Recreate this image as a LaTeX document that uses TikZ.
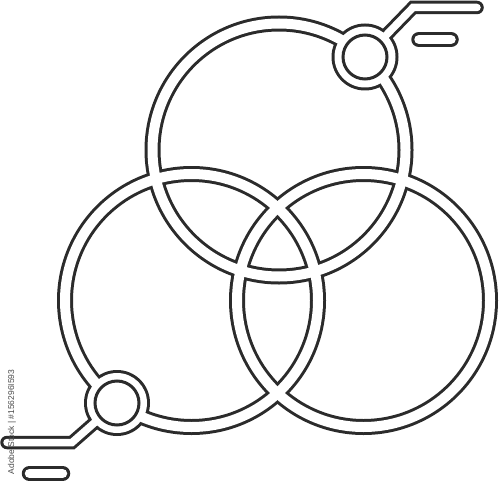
\documentclass[tikz,border=0pt]{standalone}
\usepackage{fontspec}
\newfontfamily\wmfont{Liberation Sans}
\definecolor{ink}{HTML}{2B2B2B}
\tikzset{
  ringout/.style={draw=ink, line width=16pt},
  ringin/.style={draw=white, line width=10pt},
  connout/.style={draw=ink, line width=13.5pt, line cap=round},
  connin/.style={draw=white, line width=7.5pt, line cap=round},
  pillout/.style={draw=ink, line width=15.5pt, line cap=round},
  pillin/.style={draw=white, line width=9.5pt, line cap=round},
  hubline/.style={draw=ink, line width=3pt},
}
\begin{document}
\begin{tikzpicture}[x=1pt,y=-1pt]
\useasboundingbox (0,0) rectangle (500,484);
% centres
\coordinate (T) at (279,150);
\coordinate (L) at (191.5,300.5);
\coordinate (R) at (363.5,300.5);
\coordinate (s1) at (365,57);
\coordinate (s2) at (117,403);
\coordinate (c1) at (413,7.5);
\coordinate (e1) at (477,7.5);
\coordinate (c2) at (72,442.5);
\coordinate (e2) at (7,442.5);
\coordinate (p1a) at (419,39.5);
\coordinate (p1b) at (451,39.5);
\coordinate (p2a) at (29.5,473.5);
\coordinate (p2b) at (62.5,473.5);
% dark layer
\foreach \c in {T,L,R} \draw[ringout] (\c) circle[radius=126.5pt];
\fill[ink] (s1) circle[radius=33.5pt];
\fill[ink] (s2) circle[radius=33pt];
\draw[connout] (s1) -- (c1) -- (e1);
\draw[connout] (s2) -- (c2) -- (e2);
\draw[pillout] (p1a) -- (p1b);
\draw[pillout] (p2a) -- (p2b);
% white layer
\foreach \c in {T,L,R} \draw[ringin] (\c) circle[radius=126.5pt];
\draw[connin] (s1) -- (c1) -- (e1);
\draw[connin] (s2) -- (c2) -- (e2);
\fill[white] (s1) circle[radius=30.5pt];
\fill[white] (s2) circle[radius=30pt];
\draw[pillin] (p1a) -- (p1b);
\draw[pillin] (p2a) -- (p2b);
% hub inner circles
\draw[hubline] (s1) circle[radius=22pt];
\draw[hubline] (s2) circle[radius=22pt];
% side text
\node[rotate=90, text=ink!85, font=\wmfont\fontsize{8.5}{10}\selectfont, inner sep=0pt] (wm) at (12,422) {Adobe Stock | \#156296I593};
\end{tikzpicture}
\end{document}
